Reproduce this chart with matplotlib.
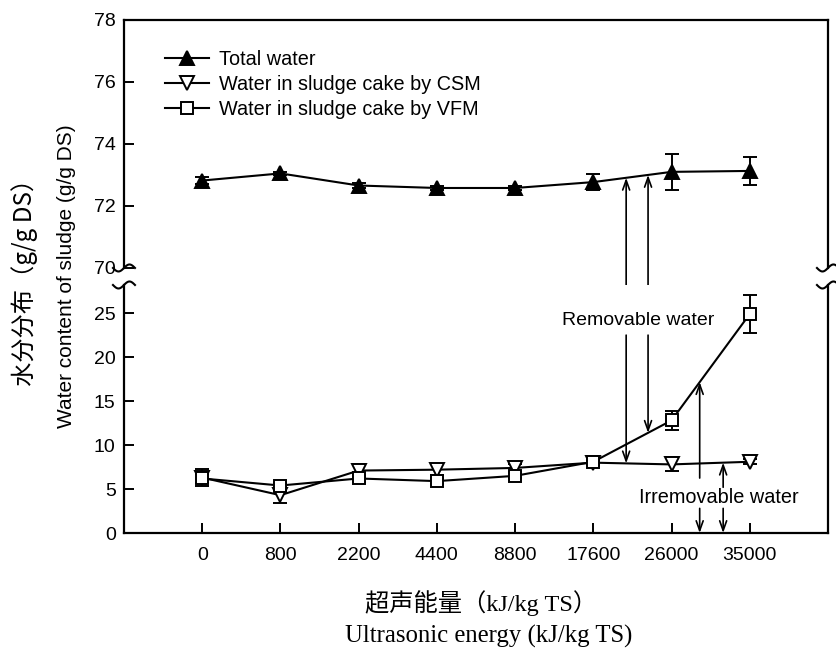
import numpy as np
import matplotlib.pyplot as plt

# energia ultrassonica (kJ/kg TS)
energy = ['0', '800', '2200', '4400', '8800', '17600', '26000', '35000']

# agua total e erro
total = [72.82, 73.05, 72.66, 72.58, 72.58, 72.77, 73.10, 73.13]
total_err = [0.10, 0.05, 0.08, 0.05, 0.05, 0.25, 0.58, 0.45]
# agua na torta - CSM
csm = [6.3, 4.3, 7.1, 7.2, 7.4, 8.0, 7.8, 8.1]
csm_err = [1.0, 0.9, 0.7, 0.6, 0.5, 0.3, 0.8, 0.3]
# agua na torta - VFM
vfm = [6.2, 5.4, 6.2, 5.9, 6.5, 8.1, 12.8, 24.9]
vfm_err = [0.5, 0.3, 0.4, 0.3, 0.3, 0.4, 1.1, 2.2]

plt.rcParams['font.family'] = ['Liberation Sans', 'DejaVu Sans']

x = np.arange(len(energy))

fig = plt.figure(figsize=(8.36, 6.52), dpi=100)
ax1 = fig.add_axes([0.1483, 0.5890, 0.8421, 0.3804])  # parte de cima (70-78)
ax2 = fig.add_axes([0.1483, 0.1825, 0.8421, 0.3804])  # parte de baixo (0-28)

estilo = dict(color='black', linewidth=1.5, capsize=5,
              elinewidth=1.4, capthick=1.4, markeredgewidth=1.4)
e1 = ax1.errorbar(x, total, yerr=total_err, fmt='-^', markersize=10, markerfacecolor='black', **estilo)
e2 = ax2.errorbar(x, csm, yerr=csm_err, fmt='-v', markersize=10, markerfacecolor='white', **estilo)
e3 = ax2.errorbar(x, vfm, yerr=vfm_err, fmt='-s', markersize=9, markerfacecolor='white', **estilo)

ax1.set_ylim(70, 78)
ax2.set_ylim(0, 28.2)
for ax in (ax1, ax2):
    ax.set_xlim(-1, 8)
    ax.tick_params(direction='in', length=7, width=1.4, labelsize=14, pad=6)
    for s in ax.spines.values():
        s.set_linewidth(1.6)
ax1.set_yticks([70, 72, 74, 76, 78])
ax1.set_xticks([])
ax1.spines['bottom'].set_visible(False)
ax2.set_yticks([0, 5, 10, 15, 20, 25])
ax2.set_xticks(x)
ax2.set_xticklabels(energy)
ax2.tick_params(axis='x', pad=10)
ax2.spines['top'].set_visible(False)

# marcas de quebra do eixo
W, H = 836, 652
t = np.linspace(0, 1, 40)
for xf in (0.1483, 0.9904):
    for yf in (0.5890, 0.5629):
        fig.add_artist(plt.Line2D(xf + (t - 0.5) * 22 / W, yf - 3.5 * np.sin(2 * np.pi * t) / H,
                                  color='black', linewidth=1.5))

ax1.legend([e1.lines[0], e2.lines[0], e3.lines[0]],
           ['Total water', 'Water in sludge cake by CSM', 'Water in sludge cake by VFM'],
           loc='upper left', bbox_to_anchor=(0.058, 0.878), frameon=False, fontsize=14.3,
           borderpad=0, borderaxespad=0, handlelength=2.2, handletextpad=0.55, labelspacing=0.3)

# setas - agua removivel
seta = dict(arrowstyle='->,head_length=0.7,head_width=0.25', color='black', lw=1.2,
            shrinkA=0, shrinkB=0)
xr = [5.42, 5.70]
ax2.text(5.57, 24.2, 'Removable water', ha='center', va='center', fontsize=14)
for xi in xr:
    ax1.annotate('', xy=(xi, np.interp(xi, x, total)), xytext=(xi, 26.1),
                 textcoords=ax2.transData, arrowprops=seta, annotation_clip=False)
ax2.annotate('', xy=(xr[0], np.interp(xr[0], x, csm)), xytext=(xr[0], 22.5), arrowprops=seta)
ax2.annotate('', xy=(xr[1], np.interp(xr[1], x, vfm)), xytext=(xr[1], 22.5), arrowprops=seta)

# setas - agua nao removivel
xi_ = [6.36, 6.66]
ax2.text(6.6, 4.0, 'Irremovable water', ha='center', va='center', fontsize=14.3)
ax2.annotate('', xy=(xi_[0], np.interp(xi_[0], x, vfm)), xytext=(xi_[0], 6.25), arrowprops=seta)
ax2.annotate('', xy=(xi_[1], np.interp(xi_[1], x, csm)), xytext=(xi_[1], 5.2), arrowprops=seta)
for xi in xi_:
    ax2.annotate('', xy=(xi, 0), xytext=(xi, 2.8), arrowprops=seta)

# rotulos
fig.text(0.029, 0.5767, '水分分布（g/g DS）', rotation=90, ha='center', va='center',
         fontsize=17.5, family=['Noto Sans CJK SC', 'DejaVu Sans'])
fig.text(0.079, 0.5767, 'Water content of sludge (g/g DS)', rotation=90, ha='center',
         va='center', fontsize=15)
fig.text(0.575, 0.0745, '超声能量（kJ/kg TS）', ha='center', va='center', fontsize=17.5,
         family=['Liberation Serif', 'Noto Sans CJK SC'])
fig.text(0.584, 0.0235, 'Ultrasonic energy (kJ/kg TS)', ha='center', va='center', fontsize=17.8,
         family=['Liberation Serif'])

fig.savefig('out.png', dpi=100)
